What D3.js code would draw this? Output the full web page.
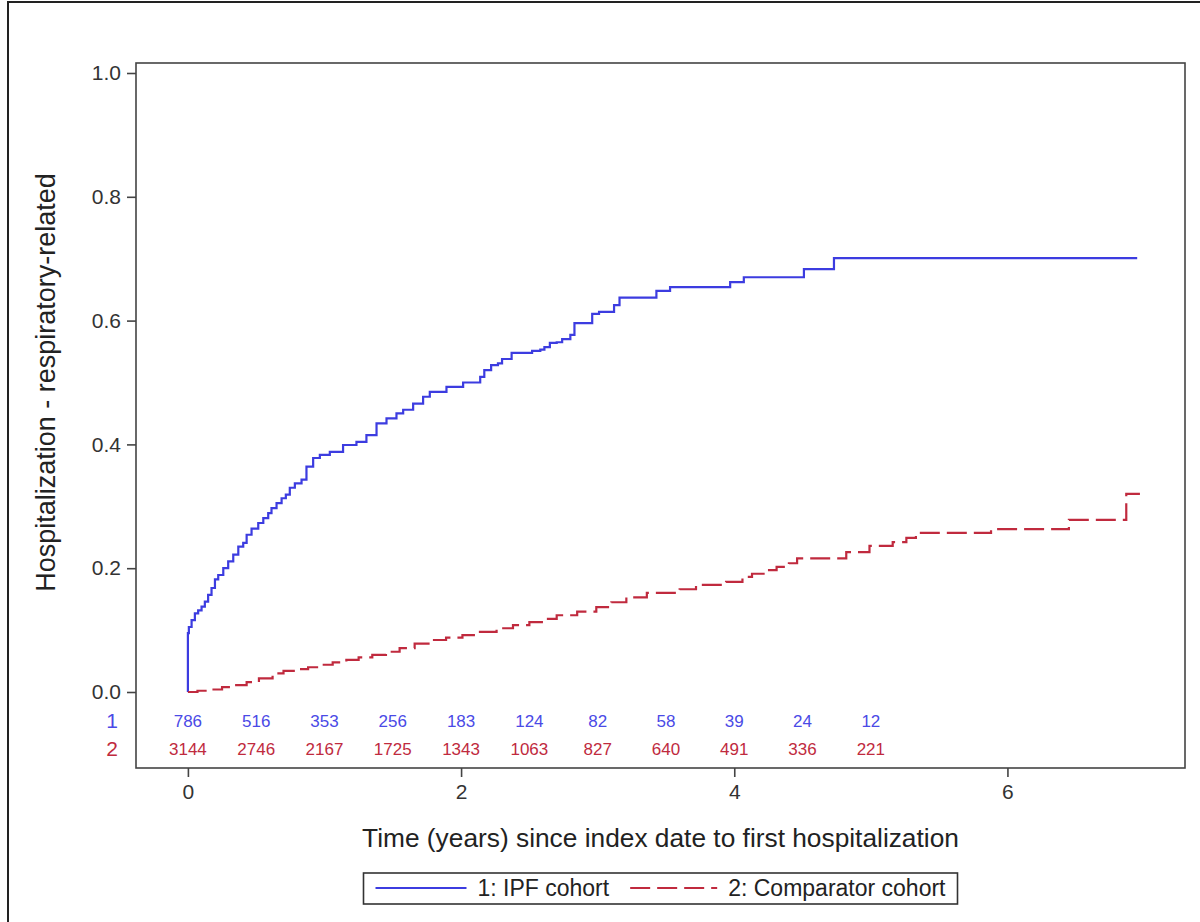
<!DOCTYPE html>
<meta charset="utf-8">
<script src="https://d3js.org/d3.v7.min.js"></script>
<style>
  body { margin: 0; background: #fff; }
  text { font-family: "Liberation Sans", Arial, sans-serif; }
</style>
<div id="chart"></div>
<script>
// cumulative incidence (time in years, value)
const ipfTime = [0, 0, 0.007, 0.027, 0.051, 0.075, 0.100, 0.124, 0.148, 0.173, 0.198, 0.222, 0.259, 0.295, 0.332, 0.369, 0.405, 0.430, 0.466, 0.515, 0.552, 0.588, 0.612, 0.649, 0.686, 0.717, 0.746, 0.783, 0.832, 0.868, 0.917, 0.966, 1.039, 1.136, 1.234, 1.307, 1.381, 1.454, 1.527, 1.576, 1.649, 1.722, 1.771, 1.893, 2.015, 2.14, 2.17, 2.22, 2.27, 2.30, 2.37, 2.52, 2.58, 2.61, 2.65, 2.70, 2.74, 2.80, 2.83, 2.96, 3.01, 3.12, 3.16, 3.43, 3.53, 3.97, 4.07, 4.51, 4.73, 6.95];
const ipfCif  = [0, 0.095, 0.105, 0.116, 0.127, 0.132, 0.138, 0.146, 0.157, 0.168, 0.182, 0.189, 0.200, 0.211, 0.222, 0.235, 0.241, 0.254, 0.264, 0.273, 0.281, 0.289, 0.297, 0.305, 0.313, 0.319, 0.330, 0.337, 0.343, 0.364, 0.378, 0.383, 0.388, 0.399, 0.404, 0.415, 0.434, 0.442, 0.450, 0.456, 0.466, 0.477, 0.485, 0.493, 0.500, 0.509, 0.520, 0.528, 0.531, 0.538, 0.548, 0.551, 0.553, 0.557, 0.564, 0.565, 0.570, 0.577, 0.596, 0.611, 0.614, 0.625, 0.637, 0.648, 0.654, 0.662, 0.670, 0.683, 0.701, 0.701];

const compTime = [0, 0.07, 0.14, 0.25, 0.33, 0.43, 0.52, 0.62, 0.70, 0.80, 0.88, 0.97, 1.06, 1.16, 1.25, 1.35, 1.45, 1.55, 1.66, 1.77, 1.89, 2.01, 2.13, 2.26, 2.38, 2.50, 2.60, 2.70, 2.85, 2.99, 3.10, 3.21, 3.36, 3.60, 3.72, 3.94, 4.06, 4.13, 4.24, 4.31, 4.40, 4.46, 4.82, 4.99, 5.16, 5.26, 5.33, 5.88, 6.45, 6.87, 6.97];
const compCif  = [0, 0.002, 0.004, 0.008, 0.011, 0.016, 0.022, 0.030, 0.034, 0.037, 0.040, 0.044, 0.048, 0.052, 0.056, 0.060, 0.065, 0.071, 0.078, 0.084, 0.088, 0.092, 0.097, 0.103, 0.108, 0.113, 0.118, 0.124, 0.130, 0.137, 0.145, 0.153, 0.160, 0.166, 0.173, 0.178, 0.186, 0.191, 0.197, 0.202, 0.208, 0.216, 0.226, 0.236, 0.242, 0.249, 0.257, 0.263, 0.278, 0.320, 0.320];

// number at risk table
const riskTimes = [0, 0.5, 1, 1.5, 2, 2.5, 3, 3.5, 4, 4.5, 5];
const ipfRisk  = [786, 516, 353, 256, 183, 124, 82, 58, 39, 24, 12];
const compRisk = [3144, 2746, 2167, 1725, 1343, 1063, 827, 640, 491, 336, 221];

const xTicks = [0, 2, 4, 6];
const yTicks = [0, 0.2, 0.4, 0.6, 0.8, 1.0];
const groups = ["1: IPF cohort", "2: Comparator cohort"];

const blue = "#3c3ce0", red = "#c02a3e";
const W = 1200, H = 922;
const frame = {left: 136, top: 63, right: 1185, bottom: 768};

const svg = d3.select("#chart").append("svg")
    .attr("width", W).attr("height", H);

// outer border (only top and left visible in the crop)
svg.append("path")
    .attr("d", `M8,${H} L8,2 L${W},2`)
    .attr("fill", "none").attr("stroke", "#222").attr("stroke-width", 2);

const x = d3.scaleLinear().domain([-0.38, 7.3]).range([frame.left, frame.right]);
const y = d3.scaleLinear().domain([0, 1]).range([692, 73]);

// plot frame
svg.append("rect")
    .attr("x", frame.left).attr("y", frame.top)
    .attr("width", frame.right - frame.left).attr("height", frame.bottom - frame.top)
    .attr("fill", "none").attr("stroke", "#444").attr("stroke-width", 1.6);

// Y axis
const yAxis = svg.append("g")
    .attr("transform", `translate(${frame.left},0)`)
    .call(d3.axisLeft(y).tickValues(yTicks).tickFormat(d3.format(".1f")).tickSize(9).tickPadding(6));
yAxis.select(".domain").remove();
yAxis.selectAll("line").attr("stroke", "#444").attr("stroke-width", 1.6);
yAxis.selectAll("text").attr("font-size", 21).attr("fill", "#333")
    .attr("font-family", "Liberation Sans, Arial, sans-serif");

// X axis
const xAxis = svg.append("g")
    .attr("transform", `translate(0,${frame.bottom})`)
    .call(d3.axisBottom(x).tickValues(xTicks).tickFormat(d3.format("d")).tickSize(9).tickPadding(7));
xAxis.select(".domain").remove();
xAxis.selectAll("line").attr("stroke", "#444").attr("stroke-width", 1.6);
xAxis.selectAll("text").attr("font-size", 21).attr("fill", "#333")
    .attr("font-family", "Liberation Sans, Arial, sans-serif");

// axis titles
svg.append("text")
    .attr("x", (frame.left + frame.right) / 2).attr("y", 847)
    .attr("text-anchor", "middle").attr("font-size", 26.3).attr("fill", "#222")
    .text("Time (years) since index date to first hospitalization");

svg.append("text")
    .attr("transform", `translate(55,${(y(0) + y(1)) / 2}) rotate(-90)`)
    .attr("text-anchor", "middle").attr("font-size", 27).attr("fill", "#222")
    .text("Hospitalization - respiratory-related");

// curves
const line = d3.line()
    .x(d => x(d[0]))
    .y(d => y(d[1]))
    .curve(d3.curveStepAfter);

svg.append("path")
    .datum(ipfTime.map((t, i) => [t, ipfCif[i]]))
    .attr("fill", "none").attr("stroke", blue).attr("stroke-width", 2.2)
    .attr("d", line);

svg.append("path")
    .datum(compTime.map((t, i) => [t, compCif[i]]))
    .attr("fill", "none").attr("stroke", red).attr("stroke-width", 2.2)
    .attr("stroke-dasharray", "20,7")
    .attr("d", line);

// at-risk table
const rows = [
  {label: "1", values: ipfRisk, color: "#4a4ae6", y: 727},
  {label: "2", values: compRisk, color: "#c02a3e", y: 755}
];
rows.forEach(r => {
  svg.append("text")
      .attr("x", 112).attr("y", r.y + 1)
      .attr("text-anchor", "middle").attr("font-size", 21).attr("fill", r.color)
      .text(r.label);
  svg.append("g").selectAll("text")
    .data(r.values)
    .join("text")
      .attr("x", (d, i) => x(riskTimes[i]))
      .attr("y", r.y)
      .attr("text-anchor", "middle")
      .attr("font-family", "Open Sans, sans-serif")
      .attr("font-size", 17)
      .attr("fill", r.color)
      .text(d => d);
});

// legend
const lg = svg.append("g");
const box = lg.append("rect")
    .attr("fill", "none").attr("stroke", "#333").attr("stroke-width", 1.6);
const t1 = lg.append("text").attr("font-size", 23).attr("fill", "#222").attr("y", 896).text(groups[0]);
const t2 = lg.append("text").attr("font-size", 23).attr("fill", "#222").attr("y", 896).text(groups[1]);
const w1 = t1.node().getComputedTextLength(), w2 = t2.node().getComputedTextLength();
const sample = 91, pad = 12, gap = 11, mid = 21;
const total = pad + sample + gap + w1 + mid + sample - 4 + gap + w2 + pad;
let lx = (frame.left + frame.right) / 2 - total / 2;
box.attr("x", lx).attr("y", 873).attr("width", total).attr("height", 31);
lg.append("line").attr("x1", lx + pad).attr("x2", lx + pad + sample)
    .attr("y1", 888).attr("y2", 888).attr("stroke", blue).attr("stroke-width", 2);
t1.attr("x", lx + pad + sample + gap);
let sx = lx + pad + sample + gap + w1 + mid;
lg.append("line").attr("x1", sx).attr("x2", sx + sample - 4)
    .attr("y1", 888).attr("y2", 888).attr("stroke", red).attr("stroke-width", 2)
    .attr("stroke-dasharray", "20,7");
t2.attr("x", sx + sample - 4 + gap);
</script>
